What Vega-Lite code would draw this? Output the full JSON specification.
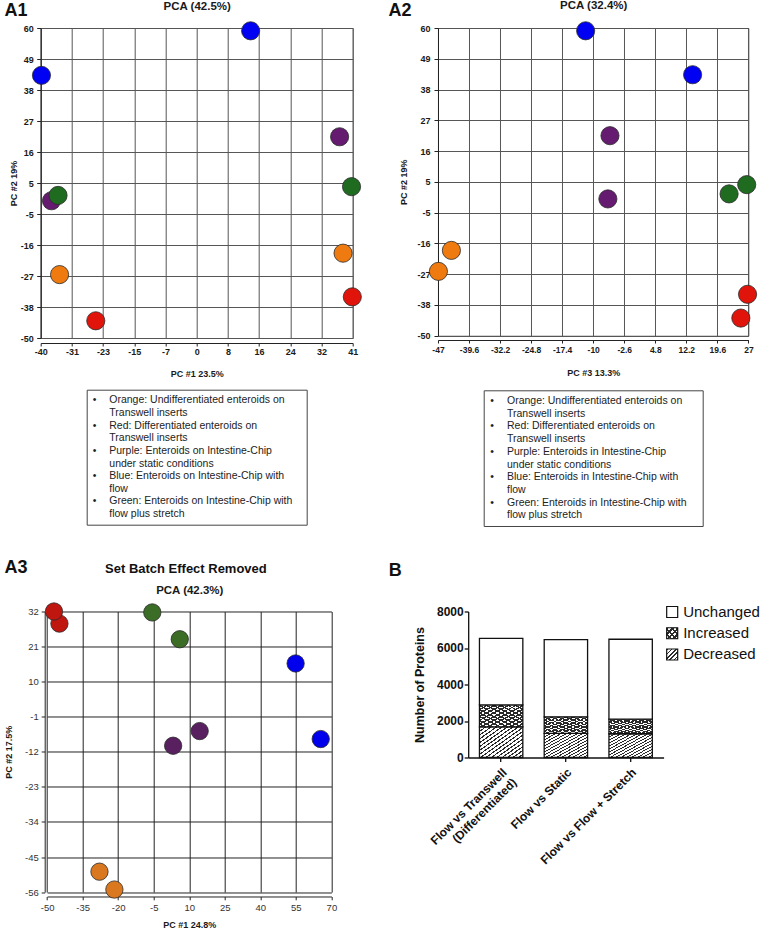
{
  "$schema": "https://vega.github.io/schema/vega-lite/v6.json",
  "background": "white",
  "padding": {"left": 2.7, "top": -2, "right": 2, "bottom": 2},
  "resolve": {"scale": {"color": "independent"}},
  "config": {
    "font": "Liberation Sans",
    "view": {"stroke": "#6e6e6e", "strokeWidth": 1},
    "axis": {"labelFont": "Liberation Sans", "titleFont": "Liberation Sans", "labelColor": "#1a1a1a", "titleColor": "#1a1a1a", "domainColor": "#222", "tickColor": "#222", "gridColor": "#555", "gridOpacity": 1, "gridWidth": 1, "labelFlush": false, "labelOverlap": false},
    "title": {"font": "Liberation Sans", "color": "#111"},
    "text": {"font": "Liberation Sans"}
  },
  "columns": 1, "align": "none", "spacing": 31.5,
  "concat": [
    {
      "hconcat": [
        {
          "vconcat": [
            {
              "width": 312, "height": 310,
              "data": {"values": [
                {"g": "Blue", "x": 14.5, "y": 59.0},
                {"g": "Blue", "x": -39.8, "y": 43.2},
                {"g": "Purple", "x": 37.6, "y": 21.4},
                {"g": "Purple", "x": -37.2, "y": -1.3},
                {"g": "Green", "x": 40.7, "y": 3.7},
                {"g": "Green", "x": -35.5, "y": 0.6},
                {"g": "Orange", "x": 38.5, "y": -19.9},
                {"g": "Orange", "x": -35.1, "y": -27.5},
                {"g": "Red", "x": 40.9, "y": -35.4},
                {"g": "Red", "x": -25.7, "y": -43.9}
              ]},
              "layer": [
                {
                  "mark": {"type": "circle", "size": 330, "opacity": 1, "stroke": "#2a2a2a", "strokeWidth": 0.8},
                  "encoding": {
                    "x": {"field": "x", "type": "quantitative", "scale": {"domain": [-40, 41], "nice": false, "zero": false},
                      "axis": {"orient": "bottom", "values": [-40, -31.9, -23.8, -15.7, -7.6, 0.5, 8.6, 16.7, 24.8, 32.9, 41], "labelExpr": "datum.value < 0 ? ceil(datum.value) : floor(datum.value)", "title": "PC #1 23.5%", "offset": 5, "grid": true, "tickSize": 3, "labelFontSize": 9, "labelFontWeight": "bold", "labelPadding": 1.5, "titleFontSize": 9, "titleFontWeight": "bold", "titlePadding": 12.5}},
                    "y": {"field": "y", "type": "quantitative", "scale": {"domain": [-50, 60], "nice": false, "zero": false},
                      "axis": {"orient": "left", "values": [60, 49, 38, 27, 16, 5, -6, -17, -28, -39, -50], "labelExpr": "datum.value < 0 && datum.value > -49 ? datum.value + 1 : datum.value", "title": "PC #2   19%", "grid": true, "tickSize": 4, "labelFontSize": 9, "labelFontWeight": "bold", "labelPadding": 3.5, "titleFontSize": 9, "titleFontWeight": "bold", "titlePadding": 2}},
                    "color": {"field": "g", "type": "nominal", "scale": {"domain": ["Orange", "Red", "Purple", "Blue", "Green"], "range": ["#EF7B10", "#E0140A", "#651B6F", "#0000F2", "#1F6B20"]}, "legend": null}
                  }
                },
                {
                  "mark": {"type": "circle", "opacity": 0},
                  "encoding": {
                    "x": {"field": "x", "type": "quantitative", "axis": {"orient": "top", "title": "PCA (42.5%)", "labels": false, "ticks": false, "domain": false, "grid": false, "titleFontSize": 11.5, "titleFontWeight": "bold", "titlePadding": 17}},
                    "y": {"field": "y", "type": "quantitative", "axis": {"orient": "right", "title": "A1", "labels": false, "ticks": false, "domain": false, "grid": false, "titleAngle": 0, "titleAlign": "left", "titleBaseline": "alphabetic", "titleX": -348.6, "titleY": -12.5, "titleFontSize": 18, "titleFontWeight": "bold", "titleColor": "#111"}}
                  }
                }
              ]
            },
            {
              "width": 220, "height": 135,
              "view": {"stroke": "#444", "strokeWidth": 1},
              "data": {"values": [
                {"line": 1, "part": "bullet", "text": "•"},
                {"line": 1, "part": "text", "text": "Orange: Undifferentiated enteroids on"},
                {"line": 2, "part": "text", "text": "Transwell inserts"},
                {"line": 3, "part": "bullet", "text": "•"},
                {"line": 3, "part": "text", "text": "Red: Differentiated enteroids on"},
                {"line": 4, "part": "text", "text": "Transwell inserts"},
                {"line": 5, "part": "bullet", "text": "•"},
                {"line": 5, "part": "text", "text": "Purple: Enteroids on Intestine-Chip"},
                {"line": 6, "part": "text", "text": "under static conditions"},
                {"line": 7, "part": "bullet", "text": "•"},
                {"line": 7, "part": "text", "text": "Blue: Enteroids on Intestine-Chip with"},
                {"line": 8, "part": "text", "text": "flow"},
                {"line": 9, "part": "bullet", "text": "•"},
                {"line": 9, "part": "text", "text": "Green: Enteroids on Intestine-Chip with"},
                {"line": 10, "part": "text", "text": "flow plus stretch"}
              ]},
              "mark": {"type": "text", "align": "left", "baseline": "middle", "fontSize": 10.5, "color": "#222"},
              "encoding": {
                "x": {"field": "part", "type": "nominal", "scale": {"type": "point", "padding": 0, "domain": ["bullet", "text"], "range": [6, 22.6]}, "axis": null},
                "y": {"field": "line", "type": "ordinal", "scale": {"type": "point", "padding": 0.84}, "axis": null},
                "text": {"field": "text"}
              }
            }
          ],
          "bounds": "flush", "center": true, "spacing": 51.7
        },
        {
          "vconcat": [
            {
              "width": 310.4, "height": 307.7,
              "data": {"values": [
                {"g": "Blue", "x": -11.8, "y": 59.0},
                {"g": "Blue", "x": 13.7, "y": 43.3},
                {"g": "Purple", "x": -6.0, "y": 21.5},
                {"g": "Purple", "x": -6.5, "y": -1.1},
                {"g": "Green", "x": 22.4, "y": 0.7},
                {"g": "Green", "x": 26.6, "y": 4.0},
                {"g": "Orange", "x": -43.8, "y": -19.5},
                {"g": "Orange", "x": -46.9, "y": -27.0},
                {"g": "Red", "x": 26.8, "y": -35.2},
                {"g": "Red", "x": 25.2, "y": -43.7}
              ]},
              "layer": [
                {
                  "mark": {"type": "circle", "size": 330, "opacity": 1, "stroke": "#2a2a2a", "strokeWidth": 0.8},
                  "encoding": {
                    "x": {"field": "x", "type": "quantitative", "scale": {"domain": [-47, 27], "nice": false, "zero": false},
                      "axis": {"orient": "bottom", "values": [-47, -39.6, -32.2, -24.8, -17.4, -10, -2.6, 4.8, 12.2, 19.6, 27], "labelExpr": "toString(datum.value)", "title": "PC #3 13.3%", "offset": 4.3, "grid": true, "tickSize": 3, "labelFontSize": 8.5, "labelFontWeight": "bold", "labelPadding": 2.5, "titleFontSize": 9, "titleFontWeight": "bold", "titlePadding": 14}},
                    "y": {"field": "y", "type": "quantitative", "scale": {"domain": [-50, 60], "nice": false, "zero": false},
                      "axis": {"orient": "left", "values": [60, 49, 38, 27, 16, 5, -6, -17, -28, -39, -50], "labelExpr": "datum.value < 0 && datum.value > -49 ? datum.value + 1 : datum.value", "title": "PC #2   19%", "grid": true, "tickSize": 4, "labelFontSize": 9, "labelFontWeight": "bold", "labelPadding": 4, "titleFontSize": 9, "titleFontWeight": "bold", "titlePadding": 8}},
                    "color": {"field": "g", "type": "nominal", "scale": {"domain": ["Orange", "Red", "Purple", "Blue", "Green"], "range": ["#EF7B10", "#E0140A", "#651B6F", "#0000F2", "#1F6B20"]}, "legend": null}
                  }
                },
                {
                  "mark": {"type": "circle", "opacity": 0},
                  "encoding": {
                    "x": {"field": "x", "type": "quantitative", "axis": {"orient": "top", "title": "PCA (32.4%)", "labels": false, "ticks": false, "domain": false, "grid": false, "titleFontSize": 11.5, "titleFontWeight": "bold", "titlePadding": 18}},
                    "y": {"field": "y", "type": "quantitative", "axis": {"orient": "right", "title": "A2", "labels": false, "ticks": false, "domain": false, "grid": false, "titleAngle": 0, "titleAlign": "left", "titleBaseline": "alphabetic", "titleX": -360.4, "titleY": -12.5, "titleFontSize": 18, "titleFontWeight": "bold", "titleColor": "#111"}}
                  }
                }
              ]
            },
            {
              "width": 219, "height": 135.7,
              "view": {"stroke": "#444", "strokeWidth": 1},
              "data": {"values": [
                {"line": 1, "part": "bullet", "text": "•"},
                {"line": 1, "part": "text", "text": "Orange: Undifferentiated enteroids on"},
                {"line": 2, "part": "text", "text": "Transwell inserts"},
                {"line": 3, "part": "bullet", "text": "•"},
                {"line": 3, "part": "text", "text": "Red: Differentiated enteroids on"},
                {"line": 4, "part": "text", "text": "Transwell inserts"},
                {"line": 5, "part": "bullet", "text": "•"},
                {"line": 5, "part": "text", "text": "Purple: Enteroids in Intestine-Chip"},
                {"line": 6, "part": "text", "text": "under static conditions"},
                {"line": 7, "part": "bullet", "text": "•"},
                {"line": 7, "part": "text", "text": "Blue: Enteroids in Intestine-Chip with"},
                {"line": 8, "part": "text", "text": "flow"},
                {"line": 9, "part": "bullet", "text": "•"},
                {"line": 9, "part": "text", "text": "Green: Enteroids in Intestine-Chip with"},
                {"line": 10, "part": "text", "text": "flow plus stretch"}
              ]},
              "mark": {"type": "text", "align": "left", "baseline": "middle", "fontSize": 10.5, "color": "#222"},
              "encoding": {
                "x": {"field": "part", "type": "nominal", "scale": {"type": "point", "padding": 0, "domain": ["bullet", "text"], "range": [6.5, 23.3]}, "axis": null},
                "y": {"field": "line", "type": "ordinal", "scale": {"type": "point", "padding": 0.84}, "axis": null},
                "text": {"field": "text"}
              }
            }
          ],
          "bounds": "flush", "center": true, "spacing": 54.3
        }
      ],
      "spacing": 23
    },
    {
      "concat": [
        {
          "width": 290.7, "height": 280.6,
          "view": {"stroke": null},
          "resolve": {"axis": {"y": "independent"}},
          "data": {"values": [
            {"g": "Red", "x": -44.8, "y": 28.2},
            {"g": "Red", "x": -47.1, "y": 32.0},
            {"g": "Green", "x": -5.6, "y": 31.7},
            {"g": "Green", "x": 6.0, "y": 23.3},
            {"g": "Blue", "x": 54.9, "y": 15.7},
            {"g": "Blue", "x": 65.5, "y": -8.0},
            {"g": "Purple", "x": 14.4, "y": -5.5},
            {"g": "Purple", "x": 3.2, "y": -10.1},
            {"g": "Orange", "x": -27.9, "y": -49.6},
            {"g": "Orange", "x": -21.6, "y": -55.2}
          ]},
          "layer": [
            {
              "mark": {"type": "circle", "size": 300, "opacity": 1, "stroke": "#2a2a2a", "strokeWidth": 0.8},
              "encoding": {
                "x": {"field": "x", "type": "quantitative", "scale": {"domain": [-50, 70], "nice": false, "zero": false, "range": [6.4, 290.7]},
                  "axis": {"orient": "bottom", "values": [-50, -35, -20, -5, 10, 25, 40, 55, 70], "labelExpr": "'' + datum.value", "title": "PC #1 24.8%", "offset": 4.4, "grid": true, "gridColor": "#222", "tickSize": 3.3, "labelFontSize": 9.5, "labelColor": "#333", "labelPadding": 3, "titleFontSize": 9, "titleFontWeight": "bold", "titlePadding": 7.8}},
                "y": {"field": "y", "type": "quantitative", "scale": {"domain": [-56, 32], "nice": false, "zero": false},
                  "axis": {"orient": "left", "values": [32, 21, 10, -1, -12, -23, -34, -45, -56], "labelExpr": "'' + datum.value", "title": "PC #2 17.5%", "offset": -4, "grid": true, "gridColor": "#222", "tickSize": 3.5, "labelFontSize": 9.5, "labelColor": "#333", "labelPadding": 3, "titleFontSize": 9, "titleFontWeight": "bold", "titlePadding": 11}},
                "color": {"field": "g", "type": "nominal", "scale": {"domain": ["Orange", "Red", "Purple", "Blue", "Green"], "range": ["#D9781E", "#BF1610", "#59205F", "#0000EC", "#3B6D27"]}, "legend": null}
              }
            },
            {
              "mark": {"type": "circle", "opacity": 0},
              "encoding": {
                "x": {"field": "x", "type": "quantitative", "axis": {"orient": "top", "title": "PCA (42.3%)", "labels": false, "ticks": false, "domain": false, "grid": false, "titleFontSize": 11.5, "titleFontWeight": "bold", "titlePadding": 15.7}},
                "y": {"field": "y", "type": "quantitative", "axis": {"orient": "right", "title": "Set Batch Effect Removed", "labels": false, "ticks": false, "domain": false, "grid": false, "titleAngle": 0, "titleAlign": "center", "titleBaseline": "alphabetic", "titleX": -146, "titleY": -39, "titleFontSize": 13, "titleFontWeight": "bold", "titleColor": "#111"}}
              }
            },
            {
              "mark": {"type": "circle", "opacity": 0},
              "encoding": {
                "y": {"field": "y", "type": "quantitative", "axis": {"orient": "right", "title": "A3", "labels": false, "ticks": false, "domain": false, "grid": false, "titleAngle": 0, "titleAlign": "left", "titleBaseline": "alphabetic", "titleX": -327.3, "titleY": -39, "titleFontSize": 18, "titleFontWeight": "bold", "titleColor": "#111"}}
              }
            }
          ]
        },
        {
          "hconcat": [
            {
              "width": 195.4, "height": 146,
              "view": {"stroke": null},
              "data": {"values": [
                {"comparison": "Flow vs Transwell (Differentiated)", "status": "Decreased", "count": 1680},
                {"comparison": "Flow vs Transwell (Differentiated)", "status": "Increased", "count": 1200},
                {"comparison": "Flow vs Transwell (Differentiated)", "status": "Unchanged", "count": 3650},
                {"comparison": "Flow vs Static", "status": "Decreased", "count": 1320},
                {"comparison": "Flow vs Static", "status": "Increased", "count": 910},
                {"comparison": "Flow vs Static", "status": "Unchanged", "count": 4230},
                {"comparison": "Flow vs Flow + Stretch", "status": "Decreased", "count": 1300},
                {"comparison": "Flow vs Flow + Stretch", "status": "Increased", "count": 800},
                {"comparison": "Flow vs Flow + Stretch", "status": "Unchanged", "count": 4380}
              ]},
              "transform": [{"stack": "count", "groupby": ["comparison"], "sort": [{"field": "status", "order": "ascending"}], "as": ["c0", "c1"]}],
              "encoding": {
                "x": {"field": "comparison", "type": "nominal", "sort": ["Flow vs Transwell (Differentiated)", "Flow vs Static", "Flow vs Flow + Stretch"], "scale": {"paddingInner": 0.33, "paddingOuter": 0.174},
                  "axis": {"title": "B", "titleAngle": 0, "titleAlign": "left", "titleBaseline": "alphabetic", "titleX": -80, "titleY": -182.3, "titleFontSize": 18, "titleFontWeight": "bold", "titleColor": "#111", "labelAngle": -45, "labelAlign": "right", "labelBaseline": "top", "labelFontSize": 12, "labelFontWeight": "bold", "labelColor": "#111", "labelPadding": 5, "labelLimit": 300, "tickSize": 4, "tickWidth": 1.3, "domainWidth": 1.3, "domainColor": "#111", "tickColor": "#111", "grid": false, "labelExpr": "datum.value == 'Flow vs Transwell (Differentiated)' ? ['Flow vs Transwell', '(Differentiated)'] : datum.label"}},
                "y": {"field": "c1", "type": "quantitative", "scale": {"domain": [0, 8000], "nice": false},
                  "axis": {"values": [0, 2000, 4000, 6000, 8000], "format": "d", "title": "Number of Proteins", "titleFontSize": 12.5, "titleFontWeight": "bold", "titleColor": "#111", "titlePadding": 10, "labelFontSize": 12, "labelFontWeight": "bold", "labelColor": "#111", "labelPadding": 1, "tickSize": 4, "tickWidth": 1.3, "domainWidth": 1.3, "domainColor": "#111", "tickColor": "#111", "grid": false}},
                "y2": {"field": "c0"}
              },
              "layer": [
                {
                  "transform": [{"filter": "datum.status == 'Decreased'"}],
                  "mark": {"type": "bar", "stroke": "#111", "strokeWidth": 1.3, "fill": {"gradient": "linear", "x1": 0, "y1": 0, "x2": 1, "y2": 1, "stops": [
                    {"offset": 0, "color": "#2b2b2b"}, {"offset": 0.0219, "color": "#2b2b2b"}, {"offset": 0.0219, "color": "#fff"}, {"offset": 0.0625, "color": "#fff"},
                    {"offset": 0.0625, "color": "#2b2b2b"}, {"offset": 0.0844, "color": "#2b2b2b"}, {"offset": 0.0844, "color": "#fff"}, {"offset": 0.125, "color": "#fff"},
                    {"offset": 0.125, "color": "#2b2b2b"}, {"offset": 0.1469, "color": "#2b2b2b"}, {"offset": 0.1469, "color": "#fff"}, {"offset": 0.1875, "color": "#fff"},
                    {"offset": 0.1875, "color": "#2b2b2b"}, {"offset": 0.2094, "color": "#2b2b2b"}, {"offset": 0.2094, "color": "#fff"}, {"offset": 0.25, "color": "#fff"},
                    {"offset": 0.25, "color": "#2b2b2b"}, {"offset": 0.2719, "color": "#2b2b2b"}, {"offset": 0.2719, "color": "#fff"}, {"offset": 0.3125, "color": "#fff"},
                    {"offset": 0.3125, "color": "#2b2b2b"}, {"offset": 0.3344, "color": "#2b2b2b"}, {"offset": 0.3344, "color": "#fff"}, {"offset": 0.375, "color": "#fff"},
                    {"offset": 0.375, "color": "#2b2b2b"}, {"offset": 0.3969, "color": "#2b2b2b"}, {"offset": 0.3969, "color": "#fff"}, {"offset": 0.4375, "color": "#fff"},
                    {"offset": 0.4375, "color": "#2b2b2b"}, {"offset": 0.4594, "color": "#2b2b2b"}, {"offset": 0.4594, "color": "#fff"}, {"offset": 0.5, "color": "#fff"},
                    {"offset": 0.5, "color": "#2b2b2b"}, {"offset": 0.5219, "color": "#2b2b2b"}, {"offset": 0.5219, "color": "#fff"}, {"offset": 0.5625, "color": "#fff"},
                    {"offset": 0.5625, "color": "#2b2b2b"}, {"offset": 0.5844, "color": "#2b2b2b"}, {"offset": 0.5844, "color": "#fff"}, {"offset": 0.625, "color": "#fff"},
                    {"offset": 0.625, "color": "#2b2b2b"}, {"offset": 0.6469, "color": "#2b2b2b"}, {"offset": 0.6469, "color": "#fff"}, {"offset": 0.6875, "color": "#fff"},
                    {"offset": 0.6875, "color": "#2b2b2b"}, {"offset": 0.7094, "color": "#2b2b2b"}, {"offset": 0.7094, "color": "#fff"}, {"offset": 0.75, "color": "#fff"},
                    {"offset": 0.75, "color": "#2b2b2b"}, {"offset": 0.7719, "color": "#2b2b2b"}, {"offset": 0.7719, "color": "#fff"}, {"offset": 0.8125, "color": "#fff"},
                    {"offset": 0.8125, "color": "#2b2b2b"}, {"offset": 0.8344, "color": "#2b2b2b"}, {"offset": 0.8344, "color": "#fff"}, {"offset": 0.875, "color": "#fff"},
                    {"offset": 0.875, "color": "#2b2b2b"}, {"offset": 0.8969, "color": "#2b2b2b"}, {"offset": 0.8969, "color": "#fff"}, {"offset": 0.9375, "color": "#fff"},
                    {"offset": 0.9375, "color": "#2b2b2b"}, {"offset": 0.9594, "color": "#2b2b2b"}, {"offset": 0.9594, "color": "#fff"}, {"offset": 1, "color": "#fff"}
                  ]}}
                },
                {
                  "transform": [{"filter": "datum.status == 'Increased'"}],
                  "mark": {"type": "bar", "strokeWidth": 0, "fill": {"gradient": "linear", "x1": 0, "y1": 0, "x2": 1, "y2": 1, "stops": [
                    {"offset": 0, "color": "#2b2b2b"}, {"offset": 0.0333, "color": "#2b2b2b"}, {"offset": 0.0333, "color": "#fff"}, {"offset": 0.0833, "color": "#fff"},
                    {"offset": 0.0833, "color": "#2b2b2b"}, {"offset": 0.1167, "color": "#2b2b2b"}, {"offset": 0.1167, "color": "#fff"}, {"offset": 0.1667, "color": "#fff"},
                    {"offset": 0.1667, "color": "#2b2b2b"}, {"offset": 0.2, "color": "#2b2b2b"}, {"offset": 0.2, "color": "#fff"}, {"offset": 0.25, "color": "#fff"},
                    {"offset": 0.25, "color": "#2b2b2b"}, {"offset": 0.2833, "color": "#2b2b2b"}, {"offset": 0.2833, "color": "#fff"}, {"offset": 0.3333, "color": "#fff"},
                    {"offset": 0.3333, "color": "#2b2b2b"}, {"offset": 0.3667, "color": "#2b2b2b"}, {"offset": 0.3667, "color": "#fff"}, {"offset": 0.4167, "color": "#fff"},
                    {"offset": 0.4167, "color": "#2b2b2b"}, {"offset": 0.45, "color": "#2b2b2b"}, {"offset": 0.45, "color": "#fff"}, {"offset": 0.5, "color": "#fff"},
                    {"offset": 0.5, "color": "#2b2b2b"}, {"offset": 0.5333, "color": "#2b2b2b"}, {"offset": 0.5333, "color": "#fff"}, {"offset": 0.5833, "color": "#fff"},
                    {"offset": 0.5833, "color": "#2b2b2b"}, {"offset": 0.6167, "color": "#2b2b2b"}, {"offset": 0.6167, "color": "#fff"}, {"offset": 0.6667, "color": "#fff"},
                    {"offset": 0.6667, "color": "#2b2b2b"}, {"offset": 0.7, "color": "#2b2b2b"}, {"offset": 0.7, "color": "#fff"}, {"offset": 0.75, "color": "#fff"},
                    {"offset": 0.75, "color": "#2b2b2b"}, {"offset": 0.7833, "color": "#2b2b2b"}, {"offset": 0.7833, "color": "#fff"}, {"offset": 0.8333, "color": "#fff"},
                    {"offset": 0.8333, "color": "#2b2b2b"}, {"offset": 0.8667, "color": "#2b2b2b"}, {"offset": 0.8667, "color": "#fff"}, {"offset": 0.9167, "color": "#fff"},
                    {"offset": 0.9167, "color": "#2b2b2b"}, {"offset": 0.95, "color": "#2b2b2b"}, {"offset": 0.95, "color": "#fff"}, {"offset": 1, "color": "#fff"}
                  ]}}
                },
                {
                  "transform": [{"filter": "datum.status == 'Increased'"}],
                  "mark": {"type": "bar", "stroke": "#111", "strokeWidth": 1.3, "fill": {"gradient": "linear", "x1": 1, "y1": 0, "x2": 0, "y2": 1, "stops": [
                    {"offset": 0, "color": "#2b2b2b"}, {"offset": 0.0333, "color": "#2b2b2b"}, {"offset": 0.0333, "color": "rgba(255,255,255,0)"}, {"offset": 0.0833, "color": "rgba(255,255,255,0)"},
                    {"offset": 0.0833, "color": "#2b2b2b"}, {"offset": 0.1167, "color": "#2b2b2b"}, {"offset": 0.1167, "color": "rgba(255,255,255,0)"}, {"offset": 0.1667, "color": "rgba(255,255,255,0)"},
                    {"offset": 0.1667, "color": "#2b2b2b"}, {"offset": 0.2, "color": "#2b2b2b"}, {"offset": 0.2, "color": "rgba(255,255,255,0)"}, {"offset": 0.25, "color": "rgba(255,255,255,0)"},
                    {"offset": 0.25, "color": "#2b2b2b"}, {"offset": 0.2833, "color": "#2b2b2b"}, {"offset": 0.2833, "color": "rgba(255,255,255,0)"}, {"offset": 0.3333, "color": "rgba(255,255,255,0)"},
                    {"offset": 0.3333, "color": "#2b2b2b"}, {"offset": 0.3667, "color": "#2b2b2b"}, {"offset": 0.3667, "color": "rgba(255,255,255,0)"}, {"offset": 0.4167, "color": "rgba(255,255,255,0)"},
                    {"offset": 0.4167, "color": "#2b2b2b"}, {"offset": 0.45, "color": "#2b2b2b"}, {"offset": 0.45, "color": "rgba(255,255,255,0)"}, {"offset": 0.5, "color": "rgba(255,255,255,0)"},
                    {"offset": 0.5, "color": "#2b2b2b"}, {"offset": 0.5333, "color": "#2b2b2b"}, {"offset": 0.5333, "color": "rgba(255,255,255,0)"}, {"offset": 0.5833, "color": "rgba(255,255,255,0)"},
                    {"offset": 0.5833, "color": "#2b2b2b"}, {"offset": 0.6167, "color": "#2b2b2b"}, {"offset": 0.6167, "color": "rgba(255,255,255,0)"}, {"offset": 0.6667, "color": "rgba(255,255,255,0)"},
                    {"offset": 0.6667, "color": "#2b2b2b"}, {"offset": 0.7, "color": "#2b2b2b"}, {"offset": 0.7, "color": "rgba(255,255,255,0)"}, {"offset": 0.75, "color": "rgba(255,255,255,0)"},
                    {"offset": 0.75, "color": "#2b2b2b"}, {"offset": 0.7833, "color": "#2b2b2b"}, {"offset": 0.7833, "color": "rgba(255,255,255,0)"}, {"offset": 0.8333, "color": "rgba(255,255,255,0)"},
                    {"offset": 0.8333, "color": "#2b2b2b"}, {"offset": 0.8667, "color": "#2b2b2b"}, {"offset": 0.8667, "color": "rgba(255,255,255,0)"}, {"offset": 0.9167, "color": "rgba(255,255,255,0)"},
                    {"offset": 0.9167, "color": "#2b2b2b"}, {"offset": 0.95, "color": "#2b2b2b"}, {"offset": 0.95, "color": "rgba(255,255,255,0)"}, {"offset": 1, "color": "rgba(255,255,255,0)"}
                  ]}}
                },
                {
                  "transform": [{"filter": "datum.status == 'Unchanged'"}],
                  "mark": {"type": "bar", "stroke": "#111", "strokeWidth": 1.3, "fill": "#ffffff"}
                }
              ]
            },
            {
              "width": 16, "height": 48,
              "view": {"stroke": null},
              "data": {"values": [{"status": "Unchanged"}, {"status": "Increased"}, {"status": "Decreased"}]},
              "encoding": {
                "y": {"field": "status", "type": "nominal", "sort": ["Unchanged", "Increased", "Decreased"], "scale": {"type": "point", "padding": 0, "range": [0.5, 43]}, "axis": null}
              },
              "layer": [
                {
                  "transform": [{"filter": "datum.status == 'Unchanged'"}],
                  "mark": {"type": "square", "size": 121, "opacity": 1, "filled": true, "fill": "#ffffff", "stroke": "#111", "strokeWidth": 1.2}
                },
                {
                  "transform": [{"filter": "datum.status == 'Increased'"}],
                  "mark": {"type": "square", "size": 121, "opacity": 1, "filled": true, "strokeWidth": 0, "fill": {"gradient": "linear", "x1": 0, "y1": 0, "x2": 1, "y2": 1, "stops": [
                    {"offset": 0, "color": "#2b2b2b"}, {"offset": 0.1, "color": "#2b2b2b"}, {"offset": 0.1, "color": "#fff"}, {"offset": 0.25, "color": "#fff"},
                    {"offset": 0.25, "color": "#2b2b2b"}, {"offset": 0.35, "color": "#2b2b2b"}, {"offset": 0.35, "color": "#fff"}, {"offset": 0.5, "color": "#fff"},
                    {"offset": 0.5, "color": "#2b2b2b"}, {"offset": 0.6, "color": "#2b2b2b"}, {"offset": 0.6, "color": "#fff"}, {"offset": 0.75, "color": "#fff"},
                    {"offset": 0.75, "color": "#2b2b2b"}, {"offset": 0.85, "color": "#2b2b2b"}, {"offset": 0.85, "color": "#fff"}, {"offset": 1, "color": "#fff"}
                  ]}}
                },
                {
                  "transform": [{"filter": "datum.status == 'Increased'"}],
                  "mark": {"type": "square", "size": 121, "opacity": 1, "filled": true, "stroke": "#111", "strokeWidth": 1.2, "fill": {"gradient": "linear", "x1": 1, "y1": 0, "x2": 0, "y2": 1, "stops": [
                    {"offset": 0, "color": "#2b2b2b"}, {"offset": 0.1, "color": "#2b2b2b"}, {"offset": 0.1, "color": "rgba(255,255,255,0)"}, {"offset": 0.25, "color": "rgba(255,255,255,0)"},
                    {"offset": 0.25, "color": "#2b2b2b"}, {"offset": 0.35, "color": "#2b2b2b"}, {"offset": 0.35, "color": "rgba(255,255,255,0)"}, {"offset": 0.5, "color": "rgba(255,255,255,0)"},
                    {"offset": 0.5, "color": "#2b2b2b"}, {"offset": 0.6, "color": "#2b2b2b"}, {"offset": 0.6, "color": "rgba(255,255,255,0)"}, {"offset": 0.75, "color": "rgba(255,255,255,0)"},
                    {"offset": 0.75, "color": "#2b2b2b"}, {"offset": 0.85, "color": "#2b2b2b"}, {"offset": 0.85, "color": "rgba(255,255,255,0)"}, {"offset": 1, "color": "rgba(255,255,255,0)"}
                  ]}}
                },
                {
                  "transform": [{"filter": "datum.status == 'Decreased'"}],
                  "mark": {"type": "square", "size": 121, "opacity": 1, "filled": true, "stroke": "#111", "strokeWidth": 1.2, "fill": {"gradient": "linear", "x1": 0, "y1": 0, "x2": 1, "y2": 1, "stops": [
                    {"offset": 0, "color": "#2b2b2b"}, {"offset": 0.07, "color": "#2b2b2b"}, {"offset": 0.07, "color": "#fff"}, {"offset": 0.2, "color": "#fff"},
                    {"offset": 0.2, "color": "#2b2b2b"}, {"offset": 0.27, "color": "#2b2b2b"}, {"offset": 0.27, "color": "#fff"}, {"offset": 0.4, "color": "#fff"},
                    {"offset": 0.4, "color": "#2b2b2b"}, {"offset": 0.47, "color": "#2b2b2b"}, {"offset": 0.47, "color": "#fff"}, {"offset": 0.6, "color": "#fff"},
                    {"offset": 0.6, "color": "#2b2b2b"}, {"offset": 0.67, "color": "#2b2b2b"}, {"offset": 0.67, "color": "#fff"}, {"offset": 0.8, "color": "#fff"},
                    {"offset": 0.8, "color": "#2b2b2b"}, {"offset": 0.87, "color": "#2b2b2b"}, {"offset": 0.87, "color": "#fff"}, {"offset": 1, "color": "#fff"}
                  ]}}
                },
                {
                  "mark": {"type": "text", "align": "left", "baseline": "middle", "dx": 11, "fontSize": 15, "color": "#111"},
                  "encoding": {"text": {"field": "status"}}
                }
              ]
            }
          ],
          "bounds": "flush", "spacing": 0
        }
      ],
      "columns": 2, "align": "none", "spacing": 51.5
    }
  ]
}
